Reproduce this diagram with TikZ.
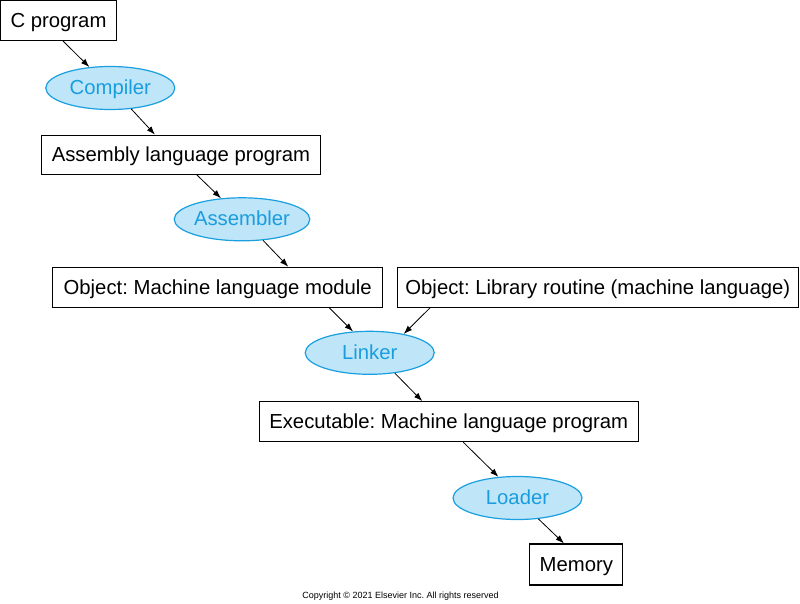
\documentclass[tikz,border=0pt]{standalone}
\usepackage{fontspec}
\setmainfont{Liberation Sans}
\usetikzlibrary{shapes.geometric,arrows.meta}
\definecolor{ellfill}{RGB}{190,229,248}
\definecolor{elldraw}{RGB}{26,159,223}
\definecolor{elltext}{RGB}{26,157,222}
\frenchspacing
\begin{document}
\begin{tikzpicture}[x=1pt,y=-1pt,
  box/.style={draw=black,line width=1.1pt,fill=white,inner sep=0pt,text height=17pt,text depth=3pt,
    font=\fontsize{20.3}{24}\selectfont},
  tool/.style={ellipse,draw=elldraw,line width=1.2pt,fill=ellfill,text=elltext,inner sep=0pt,
    text height=16pt,text depth=3pt,
    minimum width=129pt,minimum height=43pt,font=\fontsize{20.3}{24}\selectfont},
  arr/.style={-{Latex[length=8.5pt,width=6pt]},line width=0.8pt,black}]
\useasboundingbox (0,0) rectangle (800,604);
\node[box,minimum width=116pt,minimum height=40pt] (cprog) at (58.5,20.5) {C program};
\node[tool] (compiler) at (110.3,88) {Compiler};
\node[box,minimum width=279pt,minimum height=39pt] (asm) at (181,154.7) {Assembly language program};
\node[tool] (assembler) at (242,219.3) {Assembler};
\node[box,minimum width=330pt,minimum height=40pt] (objmod) at (217.7,287.3) {Object: Machine language module};
\node[box,minimum width=401pt,minimum height=40pt] (lib) at (597.8,287.3) {Object: Library routine (machine language)};
\node[tool] (linker) at (369.7,352.8) {Linker};
\node[box,minimum width=379pt,minimum height=40pt] (exec) at (448.7,421.7) {Executable: Machine language program};
\node[tool] (loader) at (517.5,498) {Loader};
\node[box,minimum width=93pt,minimum height=41pt] (memory) at (576.3,564.5) {Memory};
\node[font=\fontsize{9}{11}\selectfont,inner sep=0pt] (copy) at (400.5,595.7) {Copyright © 2021 Elsevier Inc. All rights reserved};
\draw[arr] ([xshift=4.5pt]cprog.south) -- (compiler.135);
\draw[arr] (compiler.-45) -- ([xshift=-26pt]asm.north);
\draw[arr] ([xshift=15.7pt]asm.south) -- (assembler.135);
\draw[arr] (assembler.-45) -- ([xshift=70.6pt]objmod.north);
\draw[arr] ([xshift=111.6pt]objmod.south) -- (linker.128);
\draw[arr] ([xshift=-167.8pt]lib.south) -- (linker.29);
\draw[arr] (linker.-39) -- ([xshift=-26.4pt]exec.north);
\draw[arr] ([xshift=14.6pt]exec.south) -- (loader.132);
\draw[arr] (loader.-45) -- ([xshift=-12.3pt]memory.north);
\end{tikzpicture}
\end{document}
